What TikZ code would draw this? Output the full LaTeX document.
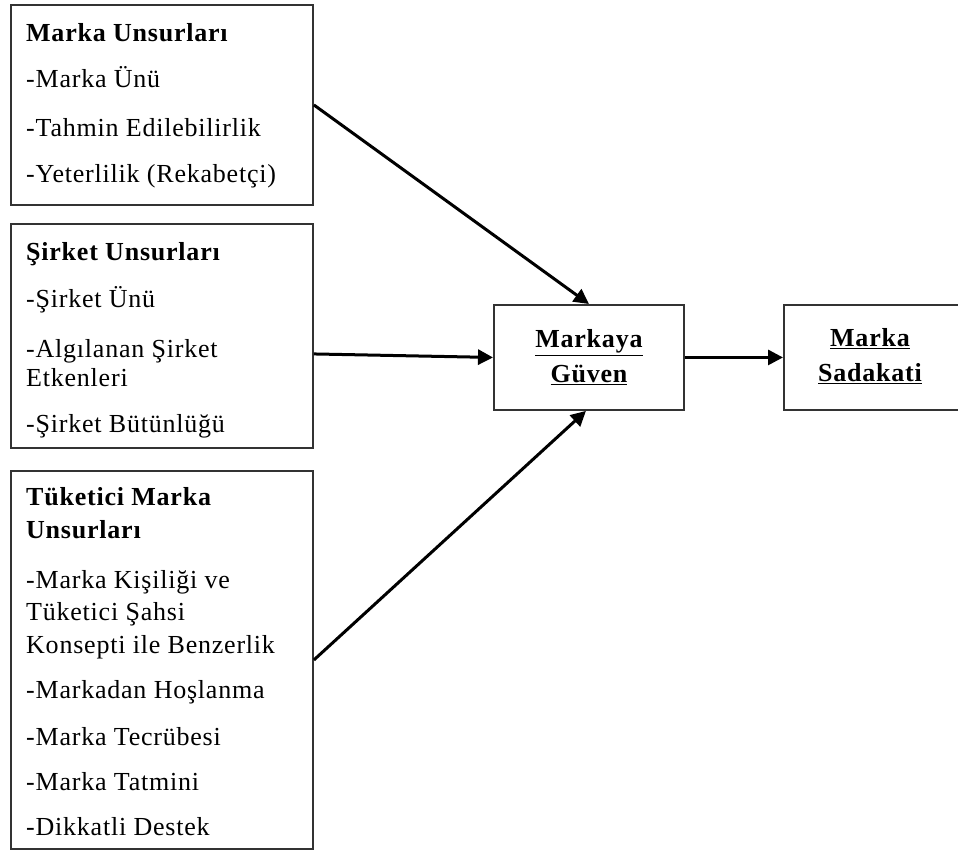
\documentclass[tikz,border=0pt]{standalone}
\usepackage{fontspec}
\setmainfont{Liberation Serif}[LetterSpace=3]
\usetikzlibrary{arrows.meta}
\begin{document}
\begin{tikzpicture}[x=1pt,y=-1pt,
  box/.style={draw=black!80, line width=1.9pt, rectangle, inner sep=0pt},
  txt/.style={inner sep=0pt, anchor=base west, font=\fontsize{26}{31}\selectfont},
  hd/.style={txt, font=\fontsize{26}{31}\selectfont\bfseries},
  lbl/.style={inner sep=0pt, align=center, font=\fontsize{26}{35}\selectfont\bfseries},
  arr/.style={line width=3pt, -{Triangle[length=15pt,width=15pt]}}]
\useasboundingbox (0,0) rectangle (958,853);
% boxes
\node[box, minimum width=302pt, minimum height=200pt, anchor=north west] (b1) at (10,4) {};
\node[box, minimum width=302pt, minimum height=224pt, anchor=north west] (b2) at (10,223) {};
\node[box, minimum width=302pt, minimum height=378pt, anchor=north west] (b3) at (10,470) {};
\node[box, minimum width=190pt, minimum height=105pt, anchor=north west] (mg) at (493,304) {};
\node[box, minimum width=180pt, minimum height=105pt, anchor=north west] (ms) at (783,304) {};
% box 1 text
\node[hd] (h1) at (26,42) {Marka Unsurları};
\node[txt] (a1) at (26,88) {-Marka Ünü};
\node[txt] (a2) at (26,137) {-Tahmin Edilebilirlik};
\node[txt] (a3) at (26,183) {-Yeterlilik (Rekabetçi)};
% box 2 text
\node[hd] (h2) at (26,260) {Şirket Unsurları};
\node[txt] (c1) at (26,307) {-Şirket Ünü};
\node[txt] (c2) at (26,357) {-Algılanan Şirket};
\node[txt] (c2b) at (26,386) {Etkenleri};
\node[txt] (c3) at (26,432) {-Şirket Bütünlüğü};
% box 3 text
\node[hd] (h3) at (26,505) {Tüketici Marka};
\node[hd] (h3b) at (26,538) {Unsurları};
\node[txt] (d1) at (26,588) {-Marka Kişiliği ve};
\node[txt] (d1b) at (26,620) {Tüketici Şahsi};
\node[txt] (d1c) at (26,653) {Konsepti ile Benzerlik};
\node[txt] (d2) at (26,698) {-Markadan Hoşlanma};
\node[txt] (d3) at (26,745) {-Marka Tecrübesi};
\node[txt] (d4) at (26,790) {-Marka Tatmini};
\node[txt] (d5) at (26,835) {-Dikkatli Destek};
% right labels
\node[lbl] (mgt) at (mg.center) {\underline{Markaya}\\\underline{Güven}};
\node[lbl] (mst) at (870,356.5) {\underline{Marka}\\\underline{Sadakati}};
% arrows
\draw[arr] (b1.east) -- (mg.north);
\draw[arr] ([yshift=-18pt]b2.east) -- (mg.west);
\draw[arr] (b3.east) -- ([xshift=-3pt]mg.south);
\draw[arr] (mg.east) -- (ms.west);
\end{tikzpicture}
\end{document}
